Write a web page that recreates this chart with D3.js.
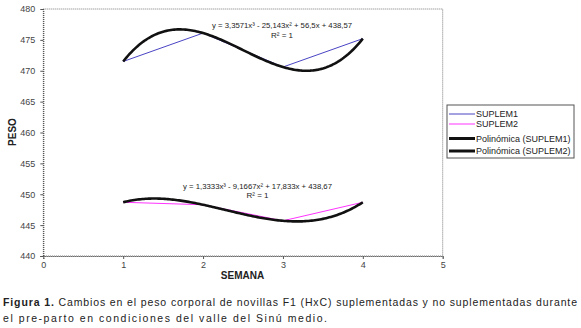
<!DOCTYPE html>
<html><head><meta charset="utf-8">
<script src="https://cdn.jsdelivr.net/npm/d3@7"></script>
<style>
body{margin:0;background:#fff;}
svg{display:block;font-family:"Liberation Sans",Arial,sans-serif;}
</style></head>
<body>
<svg id="chart" width="581" height="328"></svg>
<script>
// ---- data ----
const weeks = [1, 2, 3, 4];
const suplem1 = [471.5, 476.1, 470.6, 475.2];
const suplem2 = [448.7, 448.3, 445.7, 448.7];
const seriesNames = ["SUPLEM1", "SUPLEM2"];
const trendNames = ["Polinómica (SUPLEM1)", "Polinómica (SUPLEM2)"];
const equations = ["y = 3,3571x³ - 25,143x² + 56,5x + 438,57", "y = 1,3333x³ - 9,1667x² + 17,833x + 438,67"];
const r2Labels = ["R² = 1", "R² = 1"];
const xTicks = [0, 1, 2, 3, 4, 5];
const yTicks = [440, 445, 450, 455, 460, 465, 470, 475, 480];
const xTitle = "SEMANA";
const yTitle = "PESO";
const captionBold = "Figura 1.";
const captionLine1 = " Cambios en el peso corporal de novillas F1 (HxC) suplementadas y no suplementadas durante";
const captionLine2 = "el pre-parto en condiciones del valle del Sinú medio.";

const svg = d3.select("#chart");
const x = d3.scaleLinear().domain([0, 5]).range([43.3, 442.7]);
const y = d3.scaleLinear().domain([440, 480]).range([256, 9]);

// cubic least-squares fit (Excel polynomial trendline, order 3)
function polyfit(xs, ys, order) {
  const n = order + 1;
  const A = Array.from({length: n}, () => new Array(n + 1).fill(0));
  for (let r = 0; r < n; r++) {
    for (let c = 0; c < n; c++) A[r][c] = d3.sum(xs, xi => Math.pow(xi, r + c));
    A[r][n] = d3.sum(xs, (xi, i) => ys[i] * Math.pow(xi, r));
  }
  for (let i = 0; i < n; i++) {
    let p = i;
    for (let k = i + 1; k < n; k++) if (Math.abs(A[k][i]) > Math.abs(A[p][i])) p = k;
    [A[i], A[p]] = [A[p], A[i]];
    for (let k = 0; k < n; k++) {
      if (k === i) continue;
      const f = A[k][i] / A[i][i];
      for (let c = i; c <= n; c++) A[k][c] -= f * A[i][c];
    }
  }
  return A.map((row, i) => row[n] / row[i]);
}
const polyEval = (co, t) => co.reduce((s, c, i) => s + c * Math.pow(t, i), 0);

// plot frame
const g = svg.append("g");
g.append("rect").attr("x", x(0)).attr("y", y(480)).attr("width", x(5) - x(0)).attr("height", y(440) - y(480))
  .attr("fill", "none").attr("stroke", "#7a7a7a").attr("stroke-width", 1).attr("stroke-dasharray", "1,1");

// axes
const yAxis = d3.axisLeft(y).tickValues(yTicks).tickSize(3).tickFormat(d3.format("d"));
const xAxis = d3.axisBottom(x).tickValues(xTicks).tickSize(3).tickFormat(d3.format("d"));
const ya = svg.append("g").attr("transform", `translate(${x(0)},0)`).call(yAxis);
const xa = svg.append("g").attr("transform", `translate(0,${y(440)})`).call(xAxis);
[ya, xa].forEach(a => {
  a.select(".domain").attr("stroke", "#333").attr("stroke-dasharray", "1,1");
  a.selectAll(".tick line").attr("stroke", "#555");
  a.selectAll(".tick text").attr("fill", "#444").style("font-size", "9px").style("font-family", "Liberation Sans, Arial, sans-serif");
});
ya.selectAll(".tick text").attr("x", -8);
xa.selectAll(".tick text").attr("y", 6);

// series lines
const colors = ["#4a44c4", "#ff33ff"];
const allSeries = [suplem1, suplem2];
const line = d3.line().x(d => x(d[0])).y(d => y(d[1]));
allSeries.forEach((vals, i) => {
  svg.append("path").datum(weeks.map((w, j) => [w, vals[j]]))
    .attr("d", line).attr("fill", "none").attr("stroke", colors[i]).attr("stroke-width", 1);
});

// trend lines
const curve = d3.line().x(d => x(d[0])).y(d => y(d[1])).curve(d3.curveLinear);
allSeries.forEach((vals, i) => {
  const co = polyfit(weeks, vals, 3);
  const pts = d3.range(weeks[0], weeks[weeks.length - 1] + 0.001, 0.02).map(t => [t, polyEval(co, t)]);
  svg.append("path").datum(pts).attr("d", curve).attr("fill", "none")
    .attr("stroke", "#111").attr("stroke-width", 2.6).attr("stroke-linejoin", "round");
});

// equations
const eqPos = [[282, 28, 38], [257.5, 189, 198]];
equations.forEach((eq, i) => {
  svg.append("text").attr("x", eqPos[i][0]).attr("y", eqPos[i][1]).attr("text-anchor", "middle")
    .style("font-size", "8px").attr("fill", "#222").attr("textLength", i === 0 ? 140 : 149).attr("lengthAdjust", "spacingAndGlyphs").text(eq);
  svg.append("text").attr("x", eqPos[i][0]).attr("y", eqPos[i][2]).attr("text-anchor", "middle")
    .style("font-size", "8px").attr("fill", "#222").text(r2Labels[i]);
});

// legend
const lg = svg.append("g");
lg.append("rect").attr("x", 447).attr("y", 105).attr("width", 127).attr("height", 53)
  .attr("fill", "#fff").attr("stroke", "#555").attr("stroke-width", 1);
const legendItems = [
  {label: seriesNames[0], color: colors[0], w: 1},
  {label: seriesNames[1], color: colors[1], w: 1},
  {label: trendNames[0], color: "#111", w: 3},
  {label: trendNames[1], color: "#111", w: 3}
];
const legendY = [114, 124, 138.5, 151];
legendItems.forEach((it, i) => {
  lg.append("line").attr("x1", 449).attr("x2", 475).attr("y1", legendY[i]).attr("y2", legendY[i])
    .attr("stroke", it.color).attr("stroke-width", it.w);
  lg.append("text").attr("x", 476).attr("y", legendY[i] + 3).style("font-size", "9px").attr("fill", "#222").text(it.label);
});

// axis titles
svg.append("text").attr("x", 242.5).attr("y", 279).attr("text-anchor", "middle")
  .style("font-size", "10px").style("font-weight", "bold").attr("fill", "#222").text(xTitle);
svg.append("text").attr("transform", "translate(15.5,132) rotate(-90)").attr("text-anchor", "middle")
  .style("font-size", "10px").style("font-weight", "bold").attr("fill", "#222").text(yTitle);

// caption
const cap = svg.append("text").attr("x", 3).attr("y", 306).style("font-size", "10.5px").attr("fill", "#222")
  .attr("textLength", 574).attr("lengthAdjust", "spacing");
cap.append("tspan").style("font-weight", "bold").text(captionBold);
cap.append("tspan").text(captionLine1);
svg.append("text").attr("x", 3).attr("y", 322).style("font-size", "10.5px").attr("fill", "#222")
  .attr("textLength", 324).attr("lengthAdjust", "spacing").text(captionLine2);
</script>
</body></html>
